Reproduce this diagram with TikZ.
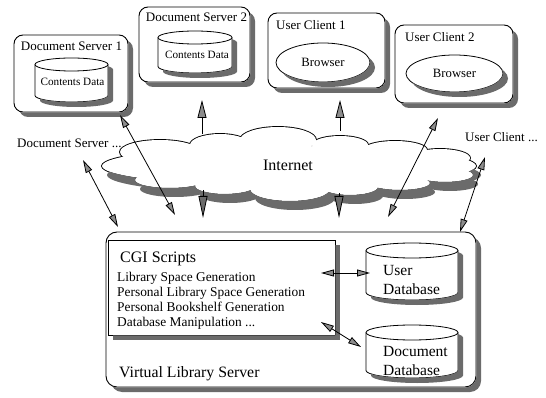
\documentclass[tikz,border=0pt]{standalone}
\usepackage{fontspec}
\setmainfont{Liberation Serif}
\usetikzlibrary{arrows.meta,shapes.geometric,calc}
\definecolor{shd}{gray}{0.42}
\definecolor{tipc}{gray}{0.55}
\newcommand\cylfront[5]{%
 \filldraw[fill=white,line width=0.8pt] ({#1-#4},{#2+#5}) -- ({#1-#4},{#3-#5})
   arc[start angle=180,end angle=360,x radius=#4pt,y radius=#5pt]
   -- ({#1+#4},{#2+#5})
   arc[start angle=0,end angle=180,x radius=#4pt,y radius=#5pt] -- cycle;
 \draw[line width=0.8pt] ({#1-#4},{#2+#5})
   arc[start angle=180,end angle=360,x radius=#4pt,y radius=#5pt];}
\newcommand\cylshadow[5]{%
 \begin{scope}[even odd rule]
 \clip (-10,-10) rectangle (560,410)
   ({#1-#4},{#2+#5}) -- ({#1-#4},{#3-#5})
   arc[start angle=180,end angle=360,x radius=#4pt,y radius=#5pt]
   -- ({#1+#4},{#2+#5})
   arc[start angle=0,end angle=180,x radius=#4pt,y radius=#5pt] -- cycle;
 \fill[shd] ({#1-#4+5},{#2+#5+5}) -- ({#1-#4+5},{#3-#5+5})
   arc[start angle=180,end angle=360,x radius=#4pt,y radius=#5pt]
   -- ({#1+#4+5},{#2+#5+5})
   arc[start angle=0,end angle=180,x radius=#4pt,y radius=#5pt] -- cycle;
 \end{scope}}
\newcommand\boxshadow[5]{%
 \begin{scope}[even odd rule,rounded corners=#5]
 \clip (-10,-10) rectangle (560,410) ({#1-0.45},{#2-0.45}) rectangle ({#3+0.45},{#4+0.45});
 \fill[shd] ({#1+5},{#2+5}) rectangle ({#3+5},{#4+5});
 \end{scope}}
\newcommand\ellshadow[4]{%
 \begin{scope}[even odd rule]
 \clip (-10,-10) rectangle (560,410) (#1,#2) ellipse [x radius=#3pt,y radius=#4pt];
 \fill[shd] ({#1+5},{#2+5}) ellipse [x radius=#3pt,y radius=#4pt];
 \end{scope}}
\def\cloudlist{289/166/187/20,160/152/40/12,220/145/30/11,278/140/38/13,340/145/28/9,395/150/32/9,440/158/30/9,170/180/35/8,225/186/30/8,290/189/40/12,350/187/28/8,400/183/30/7,445/175/28/7}
\begin{document}
\begin{tikzpicture}[x=1pt,y=-1pt,
  box/.style={draw,line width=0.9pt,rounded corners=9pt,fill=white,inner sep=0pt},
  sqbox/.style={draw,line width=0.9pt,fill=white,inner sep=0pt},
  area/.style={inner sep=0pt},
  brow/.style={ellipse,draw,line width=0.8pt,fill=white,inner sep=0pt,font=\fontsize{12.7}{14}\selectfont},
  ttl/.style={font=\fontsize{13}{15}\selectfont,inner sep=0pt},
  cdt/.style={font=\fontsize{11.2}{13}\selectfont,inner sep=0pt},
  big/.style={font=\fontsize{16}{18}\selectfont,inner sep=0pt},
  item/.style={font=\fontsize{13.4}{15}\selectfont,inner sep=0pt},
  vlsf/.style={font=\fontsize{15.8}{18}\selectfont,inner sep=0pt},
  dbt/.style={font=\fontsize{15.5}{18}\selectfont,inner sep=0pt},
  dbl/.style={{Triangle[length=13pt,width=7pt,fill=tipc]}-{Triangle[length=13pt,width=7pt,fill=tipc]},line width=0.8pt},
  upar/.style={-{Triangle[length=18pt,width=9pt,fill=tipc]},line width=0.8pt},
  dnar/.style={-{Triangle[length=22pt,width=9pt,fill=shd]},line width=0.8pt}
]
\useasboundingbox (0,0) rectangle (546,398);
% boxes
\node[box,minimum width=114pt,minimum height=77pt] (ds1) at (71,73.5) {};
\node[box,minimum width=111pt,minimum height=75pt] (ds2) at (194.5,44.5) {};
\node[box,minimum width=117pt,minimum height=75pt] (uc1) at (326.5,50.5) {};
\node[box,minimum width=118pt,minimum height=78pt] (uc2) at (454,64) {};
\node[box,rounded corners=11pt,minimum width=370pt,minimum height=155pt] (vls) at (291,309.5) {};
\node[sqbox,minimum width=227pt,minimum height=95pt] (cgi) at (221.5,287.5) {};
% cylinders
\node[area,minimum width=73pt,minimum height=44pt] (cd1) at (71.5,80) {};
\node[area,minimum width=74pt,minimum height=42pt] (cd2) at (195,52) {};
\node[area,minimum width=92pt,minimum height=57pt] (udb) at (412,271.5) {};
\node[area,minimum width=92pt,minimum height=53pt] (ddb) at (412,351.5) {};
\cylfront{71.5}{58}{102}{36.5}{6.5}
\cylfront{195}{31}{73}{37}{6.5}
\cylfront{412}{243}{300}{46}{7.5}
\cylfront{412}{325}{378}{46}{7.5}
% browsers
\node[brow,minimum width=94pt,minimum height=39pt] (br1) at (323,62.5) {Browser};
\node[brow,minimum width=97pt,minimum height=37pt] (br2) at (454.5,73.5) {Browser};
% texts
\node[ttl,anchor=base] (ds1t) at (71.5,51) {Document Server 1};
\node[cdt,anchor=base] (cd1t) at (72.5,86) {Contents Data};
\node[ttl,anchor=base] (ds2t) at (196.5,22) {Document Server 2};
\node[cdt,anchor=base] (cd2t) at (197,58.3) {Contents Data};
\node[ttl,anchor=base west] (uc1t) at (276,30) {User Client 1};
\node[ttl,anchor=base west] (uc2t) at (405,42) {User Client 2};
\node[ttl,anchor=base west] (dsx) at (17,147.3) {Document Server ...};
\node[ttl,anchor=base west] (ucx) at (465,141.7) {User Client ...};
\node[big,anchor=base west] (cgit) at (120,262.7) {CGI Scripts};
\node[item,anchor=base west] (i1) at (117,281.7) {Library Space Generation};
\node[item,anchor=base west] (i2) at (117,296.7) {Personal Library Space Generation};
\node[item,anchor=base west] (i3) at (117,311.7) {Personal Bookshelf Generation};
\node[item,anchor=base west] (i4) at (117,326.7) {Database Manipulation ...};
\node[vlsf,anchor=base west] (vlst) at (119,377.7) {Virtual Library Server};
\node[dbt,anchor=base west] (u1) at (383,275) {User};
\node[dbt,anchor=base west] (u2) at (383,294) {Database};
\node[dbt,anchor=base west] (d1) at (383,356.7) {Document};
\node[dbt,anchor=base west] (d2) at (383,375) {Database};
% cloud
\foreach \cx/\cy/\rx/\ry in \cloudlist {\draw[line width=1.8pt] (\cx,\cy) ellipse [x radius=\rx pt,y radius=\ry pt];}
\foreach \cx/\cy/\rx/\ry in \cloudlist {\fill[white] (\cx,\cy) ellipse [x radius=\rx pt,y radius=\ry pt];}
\node[big,anchor=base] (inet) at (288,170.7) {Internet};
% shadows (outside the shapes only)
\boxshadow{14}{35}{128}{112}{9pt}
\boxshadow{139}{7}{250}{82}{9pt}
\boxshadow{268}{13}{385}{88}{9pt}
\boxshadow{395}{25}{513}{103}{9pt}
\boxshadow{106}{232}{476}{387}{11pt}
\boxshadow{108}{240}{335}{335}{0pt}
\cylshadow{71.5}{58}{102}{36.5}{6.5}
\cylshadow{195}{31}{73}{37}{6.5}
\cylshadow{412}{243}{300}{46}{7.5}
\cylshadow{412}{325}{378}{46}{7.5}
\ellshadow{323}{62.5}{47}{19.5}
\ellshadow{454.5}{73.5}{48.5}{18.5}
\begin{scope}[even odd rule]
\clip (-10,-10) rectangle (560,410) (289,166) ellipse [x radius=187pt,y radius=20pt];
\clip (-10,-10) rectangle (560,410) (160,152) ellipse [x radius=40pt,y radius=12pt];
\clip (-10,-10) rectangle (560,410) (220,145) ellipse [x radius=30pt,y radius=11pt];
\clip (-10,-10) rectangle (560,410) (278,140) ellipse [x radius=38pt,y radius=13pt];
\clip (-10,-10) rectangle (560,410) (340,145) ellipse [x radius=28pt,y radius=9pt];
\clip (-10,-10) rectangle (560,410) (395,150) ellipse [x radius=32pt,y radius=9pt];
\clip (-10,-10) rectangle (560,410) (440,158) ellipse [x radius=30pt,y radius=9pt];
\clip (-10,-10) rectangle (560,410) (170,180) ellipse [x radius=35pt,y radius=8pt];
\clip (-10,-10) rectangle (560,410) (225,186) ellipse [x radius=30pt,y radius=8pt];
\clip (-10,-10) rectangle (560,410) (290,189) ellipse [x radius=40pt,y radius=12pt];
\clip (-10,-10) rectangle (560,410) (350,187) ellipse [x radius=28pt,y radius=8pt];
\clip (-10,-10) rectangle (560,410) (400,183) ellipse [x radius=30pt,y radius=7pt];
\clip (-10,-10) rectangle (560,410) (445,175) ellipse [x radius=28pt,y radius=7pt];
\foreach \cx/\cy/\rx/\ry in \cloudlist {\fill[shd] ({\cx+5},{\cy+9}) ellipse [x radius=\rx pt,y radius=\ry pt];}
\end{scope}
% connectors
\coordinate (p1a) at (120,115); \coordinate (p1b) at (175,215);
\coordinate (p2a) at (83,160);  \coordinate (p2b) at (118,227);
\coordinate (p3a) at (438,118); \coordinate (p3b) at (388,217);
\coordinate (p4a) at (485,157); \coordinate (p4b) at (460,232);
\coordinate (q1a) at (202,134); \coordinate (q1b) at (202,100);
\coordinate (q2a) at (340,131); \coordinate (q2b) at (340,100);
\coordinate (r1a) at (203,190); \coordinate (r1b) at (203,218);
\coordinate (r2a) at (339,193); \coordinate (r2b) at (339,218);
\coordinate (c1a) at (321,273); \coordinate (c1b) at (370,273);
\coordinate (c2a) at (321,322); \coordinate (c2b) at (361,347);
\draw[dbl] (p1a) -- (p1b);
\draw[dbl] (p2a) -- (p2b);
\draw[dbl] (p3a) -- (p3b);
\draw[dbl] (p4a) -- (p4b);
\draw[upar] (q1a) -- (q1b);
\draw[upar] (q2a) -- (q2b);
\draw[dnar] (r1a) -- (r1b);
\draw[dnar] (r2a) -- (r2b);
\draw[dbl] (c1a) -- (c1b);
\draw[dbl] (c2a) -- (c2b);
\end{tikzpicture}
\end{document}
